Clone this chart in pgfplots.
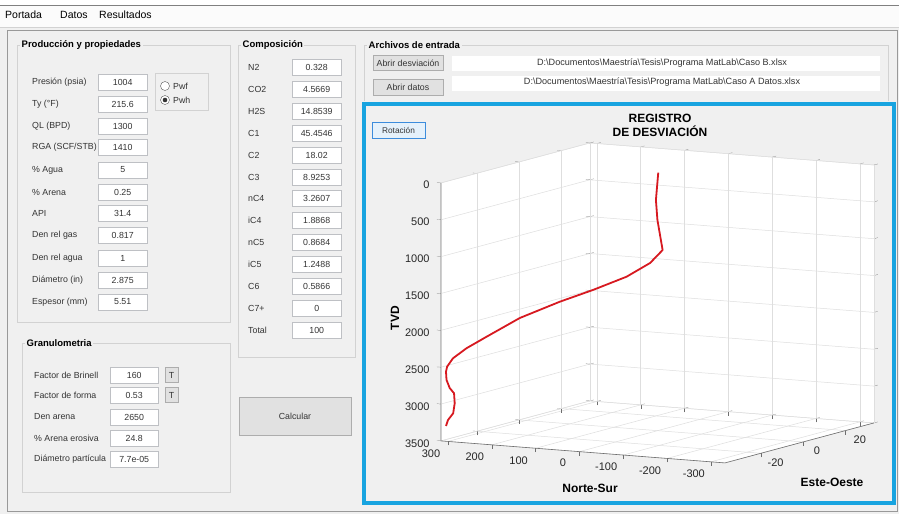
\documentclass[border=0pt]{standalone}
\usepackage{fontspec}
\setmainfont{Liberation Sans}
\usepackage{pgfplots}
\pgfplotsset{compat=1.18}
\definecolor{winbg}{RGB}{240,240,240}
\definecolor{mblue}{RGB}{24,164,224}
\definecolor{tbborder}{RGB}{190,192,196}
\definecolor{btnfill}{RGB}{225,225,225}
\definecolor{btnborder}{RGB}{173,173,173}
\definecolor{framec}{RGB}{210,210,210}
\definecolor{mred}{RGB}{215,25,32}
\definecolor{gridc}{RGB}{222,222,222}
\definecolor{axc}{RGB}{110,110,110}
\definecolor{rotborder}{RGB}{60,140,220}
\definecolor{rotfill}{RGB}{229,241,251}
\pgfplotsset{well3d/.style={
  at={(657.6pt,-172.7pt)}, anchor=origin,
  x={(-0.4383pt,0.034pt)}, y={(2.113pt,0.567pt)}, z={(0pt,-0.0737pt)},
  xmin=-332, xmax=316, ymin=-37, ymax=33.5, zmin=0, zmax=3500,
  clip=false}}
\begin{document}
\begin{tikzpicture}[x=1pt,y=-1pt,
  gui/.style={font=\fontsize{8.8}{10}\selectfont, text=black!80},
  lbl/.style={gui, anchor=west, inner sep=0pt},
  tb/.style={gui, draw=tbborder, fill=white, minimum height=16pt, inner sep=0pt, anchor=west},
  btn/.style={gui, draw=btnborder, fill=btnfill, inner sep=0pt},
  ttl/.style={font=\bfseries\fontsize{9.5}{11}\selectfont, fill=winbg, inner sep=1.5pt, anchor=west},
  menu/.style={font=\fontsize{10.5}{12}\selectfont, anchor=west, inner sep=0pt},
]
\useasboundingbox (0,0) rectangle (899,514);
\fill[white] (0,0) rectangle (899,514);
\fill[winbg] (0,27) rectangle (899,514);
\fill[white!97!gray] (0,5) rectangle (899,27);
\draw[gray] (0,5) -- (899,5);
\draw[framec] (0,27) -- (899,27);
\draw[gray!80] (7,30) rectangle (897,511);
\node[menu] at (5,15) {Portada};
\node[menu] at (60,15) {Datos};
\node[menu] at (99,15) {Resultados};

% Produccion y propiedades
\draw[framec] (17,45) rectangle (230,322);
\node[ttl] at (20,45) {Producción y propiedades};
\foreach \y/\l/\v in {82/Presión (psia)/1004, 104/Ty (°F)/215.6, 126/QL (BPD)/1300,
  147/{RGA (SCF/STB)}/1410, 170/\% Agua/5, 192/\% Arena/0.25, 213/API/31.4,
  235/Den rel gas/0.817, 258/Den rel agua/1, 280/Diámetro (in)/2.875, 302/Espesor (mm)/5.51}{
  \node[lbl] at (32,\y) {\l};
  \node[tb, minimum width=49pt] at (98,\y) {\v};
}
\draw[framec] (155,73) rectangle (208,110);
\draw[gray!70!black, fill=white] (165,86) circle (4.5);
\draw[gray!70!black, fill=white] (165,100) circle (4.5);
\fill[black!80] (165,100) circle (2.3);
\node[lbl] at (173,86) {Pwf};
\node[lbl] at (173,100) {Pwh};

% Granulometria
\draw[framec] (22,343) rectangle (230,492);
\node[ttl] at (25,343) {Granulometria};
\foreach \y/\l/\v in {375/Factor de Brinell/160, 395/Factor de forma/0.53, 417/Den arena/2650,
  438/\% Arena erosiva/24.8, 459/Diámetro partícula/7.7e-05}{
  \node[lbl] at (34,\y) {\l};
  \node[tb, minimum width=48pt] at (110,\y) {\v};
}
\node[btn, minimum width=13pt, minimum height=15pt] at (171.5,375) {T};
\node[btn, minimum width=13pt, minimum height=15pt] at (171.5,395) {T};

% Composicion
\draw[framec] (238,45) rectangle (355,357);
\node[ttl] at (241,45) {Composición};
\foreach \y/\l/\v in {67/N2/0.328, 89/CO2/4.5669, 111/H2S/14.8539, 133/C1/45.4546,
  155/C2/18.02, 177/C3/8.9253, 198/nC4/3.2607, 220/iC4/1.8868, 242/nC5/0.8684,
  264/iC5/1.2488, 286/C6/0.5866, 308/C7+/0, 330/Total/100}{
  \node[lbl] at (248,\y) {\l};
  \node[tb, minimum width=49pt] at (292,\y) {\v};
}
\node[btn, minimum width=112pt, minimum height=38pt] at (295,416) {Calcular};

% Archivos de entrada
\draw[framec] (364,101) -- (364,45) -- (888,45) -- (888,101);
\node[ttl] at (367,45) {Archivos de entrada};
\node[btn, minimum width=70pt, minimum height=15pt] at (408,63) {Abrir desviación};
\node[btn, minimum width=70pt, minimum height=16pt] at (408,87) {Abrir datos};
\fill[white] (452,56) rectangle (880,71);
\fill[white] (452,76) rectangle (880,91);
\node[gui, font=\fontsize{9.1}{10}\selectfont] at (662,63) {D:\textbackslash Documentos\textbackslash Maestría\textbackslash Tesis\textbackslash Programa MatLab\textbackslash Caso B.xlsx};
\node[gui, font=\fontsize{9.1}{10}\selectfont] at (662,82) {D:\textbackslash Documentos\textbackslash Maestría\textbackslash Tesis\textbackslash Programa MatLab\textbackslash Caso A Datos.xlsx};

% plot panel
\draw[mblue, line width=4pt] (364,104) rectangle (894,503);
\node[gui, font=\fontsize{8.3}{10}\selectfont, draw=rotborder, fill=rotfill, minimum width=53pt,
  minimum height=16pt, inner sep=0pt] at (398.5,130) {Rotación};
\node[font=\bfseries\fontsize{12}{14}\selectfont, align=center] at (660,125) {REGISTRO\\DE DESVIACIÓN};

% white back planes
\begin{axis}[well3d, hide axis]
\addplot3[fill=white, draw=none] coordinates {
(316,-37,0) (316,33.5,0) (-332,33.5,0) (-332,33.5,3500) (-332,-37,3500) (316,-37,3500) (316,-37,0)
};
\end{axis}

\begin{axis}[
  well3d,
  xtick={-300,-200,-100,0,100,200,300},
  xticklabels={-300,-200,-100,0,100,200,300},
  ytick={-20,0,20}, yticklabels={-20,0,20},
  ztick={0,500,...,3500}, zticklabels={0,500,1000,1500,2000,2500,3000,3500},
  grid=major, major grid style={gridc, line width=0.5pt},
  axis line style={gridc},
  tick pos=right, ticklabel pos=left,
  tick style={axc}, tick align=outside, major tick length=4pt,
  ticklabel style={font=\fontsize{11}{12}\selectfont, text=black!85},
  xticklabel style={xshift=-7pt, yshift=-3pt},
  yticklabel style={xshift=3pt, yshift=-1pt},
  zticklabel style={xshift=-4pt},
]
% visible axis lines
\addplot3[axc, line width=0.6pt] coordinates {(316,-37,0) (316,-37,3500) (-332,-37,3500) (-332,33.5,3500)};
% well path
\addplot3[mred, line width=1.8pt, line join=round] coordinates {
(-1,0.1,0) (2.4,-0.3,369) (0.4,0,642) (-7.6,0.8,1052) (11.3,-1.2,1221)
(46.1,-5.1,1393) (96.4,-10.6,1554) (145.7,-16,1694) (205.4,-22.6,1892)
(255,-28,2127) (285,-31.4,2273) (305,-33.6,2401) (313.9,-34.5,2511)
(315.5,-34.7,2578) (314.8,-34.6,2691) (309.9,-34.1,2802) (303.4,-33.4,2876)
(302.4,-33.3,3012) (304.9,-33.5,3147) (312.4,-34.4,3235) (315.5,-34.7,3315)
};
\end{axis}
\node[font=\bfseries\fontsize{12}{14}\selectfont, rotate=90] at (395,318) {TVD};
\node[font=\bfseries\fontsize{12}{14}\selectfont] at (590,488) {Norte-Sur};
\node[font=\bfseries\fontsize{12}{14}\selectfont] at (832,482) {Este-Oeste};
\end{tikzpicture}
\end{document}
